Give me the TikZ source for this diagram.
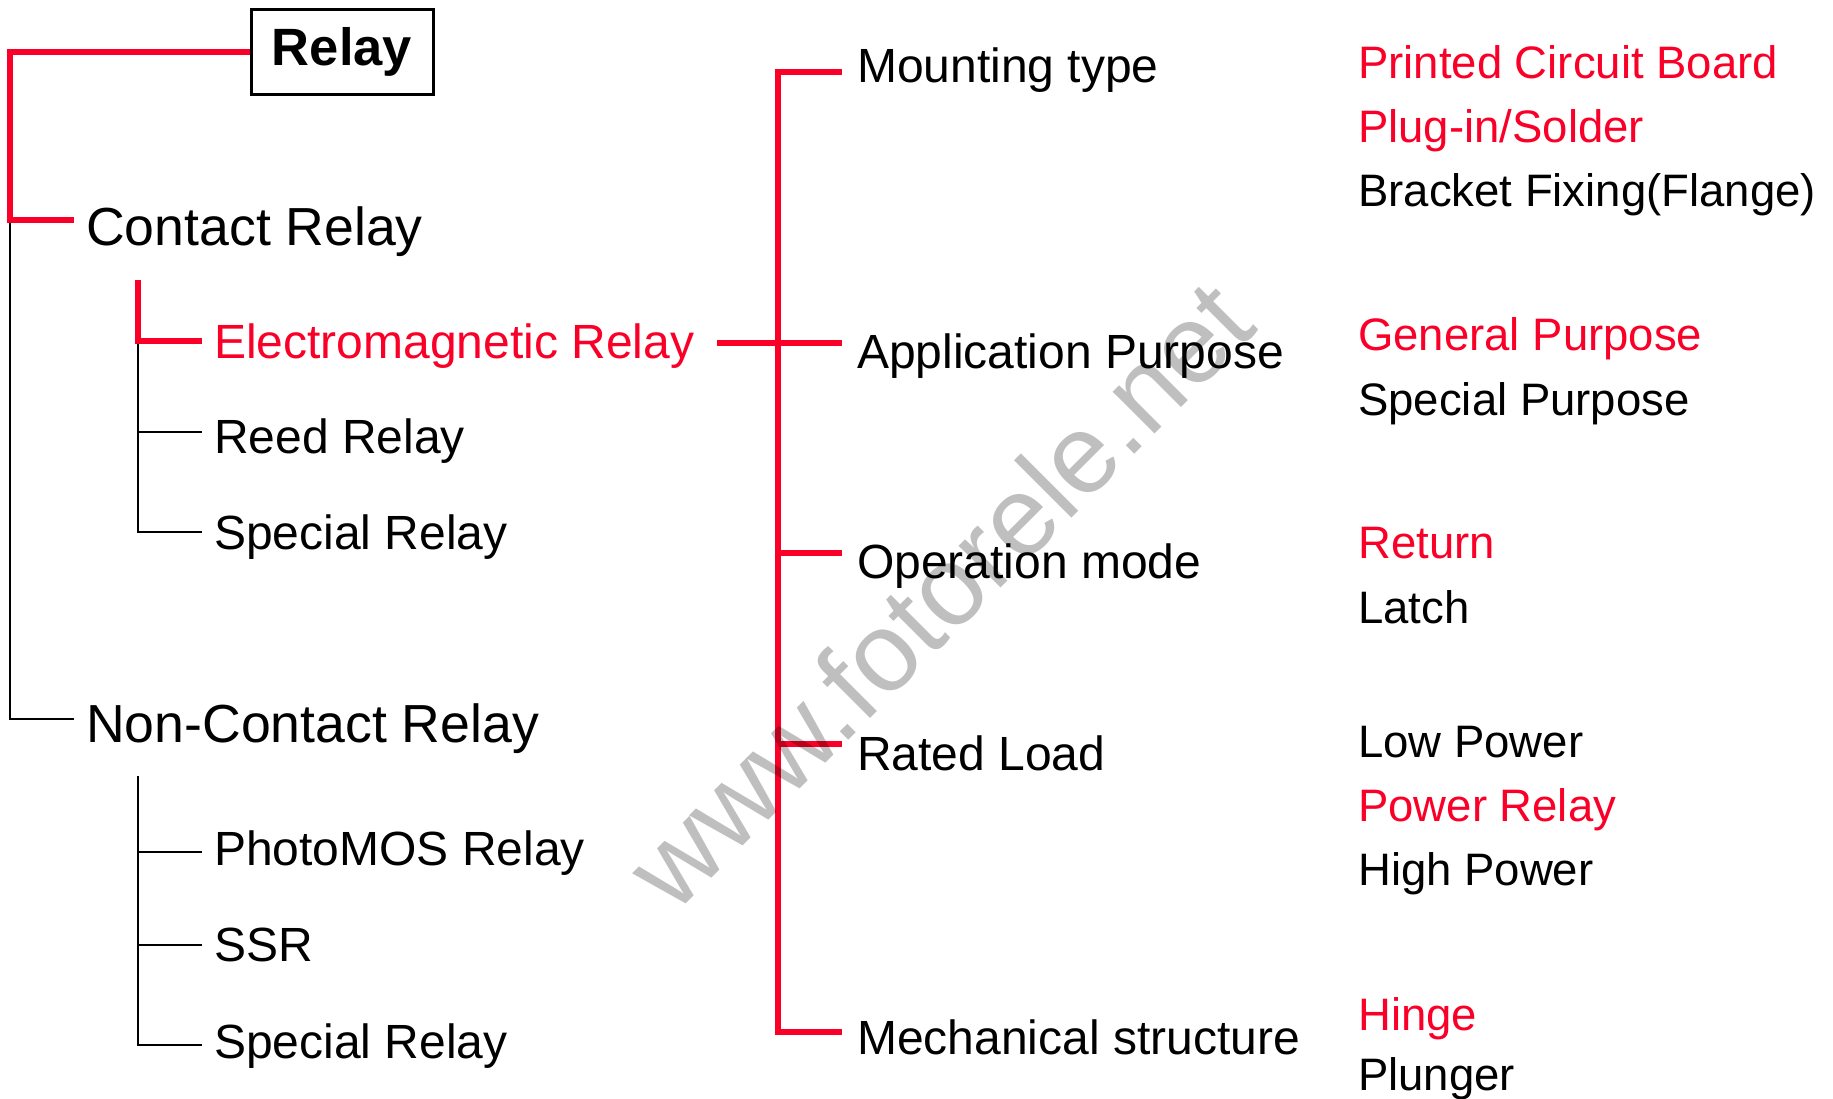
\documentclass[tikz,border=0pt]{standalone}
\usepackage{fontspec}
\setmainfont{Liberation Sans}
\definecolor{relred}{RGB}{250,0,40}
\begin{document}
\begin{tikzpicture}[x=1pt,y=-1pt,
  redline/.style={draw=relred, line width=6pt},
  blkline/.style={draw=black, line width=2.5pt},
  lvlone/.style={anchor=base west, inner xsep=12pt, inner ysep=0pt, font=\fontsize{53.6}{60}\selectfont},
  lvltwo/.style={anchor=base west, inner xsep=12pt, inner ysep=0pt, font=\fontsize{48}{55}\selectfont},
  midtxt/.style={anchor=base west, inner xsep=15pt, inner ysep=0pt, font=\fontsize{48}{55}\selectfont},
  righttxt/.style={anchor=base west, inner sep=0pt, font=\fontsize{45.5}{52}\selectfont},
  hl/.style={text=relred},
  rootbox/.style={draw=black, line width=3pt, inner sep=0pt, minimum width=182pt, minimum height=84.7pt, font=\fontsize{52.5}{60}\selectfont\bfseries},
  wmark/.style={rotate=45, text=black, text opacity=0.25, inner sep=0pt, font=\fontsize{112}{120}\selectfont}
]
\useasboundingbox[fill=white] (0,0) rectangle (1833,1098);

% root
\node[rootbox] (relay) at (342,51.7) {Relay};

% level one
\node[lvlone] (contact) at (74,245) {Contact Relay};
\node[lvlone] (noncontact) at (74,742) {Non-Contact Relay};

% level two
\node[lvltwo,hl] (em) at (202,358) {Electromagnetic Relay};
\node[lvltwo] (reed) at (202,453) {Reed Relay};
\node[lvltwo] (spec1) at (202,549) {Special Relay};
\node[lvltwo] (photo) at (202,865) {PhotoMOS Relay};
\node[lvltwo] (ssr) at (202,961) {SSR};
\node[lvltwo] (spec2) at (202,1058) {Special Relay};

% middle column
\node[midtxt] (mount) at (842,82) {Mounting type};
\node[midtxt] (app) at (842,368) {Application Purpose};
\node[midtxt] (oper) at (842,578) {Operation mode};
\node[midtxt] (rated) at (842,770) {Rated Load};
\node[midtxt] (mech) at (842,1054) {Mechanical structure};

% right column
\node[righttxt,hl] (pcb) at (1358,78) {Printed Circuit Board};
\node[righttxt,hl] (plug) at (1358,142) {Plug-in/Solder};
\node[righttxt] (brack) at (1358,206) {Bracket Fixing(Flange)};
\node[righttxt,hl] (genp) at (1358,350) {General Purpose};
\node[righttxt] (specp) at (1358,415) {Special Purpose};
\node[righttxt,hl] (ret) at (1358,558) {Return};
\node[righttxt] (latch) at (1358,623) {Latch};
\node[righttxt] (lowp) at (1358,757) {Low Power};
\node[righttxt,hl] (powr) at (1358,821) {Power Relay};
\node[righttxt] (highp) at (1358,885) {High Power};
\node[righttxt,hl] (hinge) at (1358,1030) {Hinge};
\node[righttxt] (plunger) at (1358,1090) {Plunger};

% junction coordinates
\coordinate (c0) at (10,220);
\coordinate (n0) at (10,719);
\coordinate (e0) at (138,280);
\coordinate (e1) at (138,341);
\coordinate (r1) at (138,432);
\coordinate (s1) at (138,532);
\coordinate (p0) at (138,776);
\coordinate (p1) at (138,852);
\coordinate (p2) at (138,945);
\coordinate (p3) at (138,1045);
\coordinate (m0) at (778,71.5);
\coordinate (m1) at (778,343);
\coordinate (m2) at (778,552.5);
\coordinate (m3) at (778,744);
\coordinate (m4) at (778,1031.5);

% left tree
\draw[blkline] (c0) -- (n0) -- (n0 -| noncontact.west);
\draw[redline] (relay.west) -| (c0) -- (c0 -| contact.west);
\draw[blkline] (e1) -- (s1) -- (s1 -| spec1.west);
\draw[blkline] (r1) -- (r1 -| reed.west);
\draw[redline] (e0) -- (e1) -- (e1 -| em.west);
\draw[blkline] (p0) -- (p3) -- (p3 -| spec2.west);
\draw[blkline] (p1) -- (p1 -| photo.west);
\draw[blkline] (p2) -- (p2 -| ssr.west);

% middle tree
\draw[redline] (m0 -| mount.west) -- (m0) -- (m4) -- (m4 -| mech.west);
\draw[redline] (m1 -| em.east) ++(10pt,0) -- (m1 -| app.west);
\draw[redline] (m2) -- (m2 -| oper.west);
\draw[redline] (m3) -- (m3 -| rated.west);

% watermark
\node[wmark] (wm) at (939,594) {www.fotorele.net};
\end{tikzpicture}
\end{document}
